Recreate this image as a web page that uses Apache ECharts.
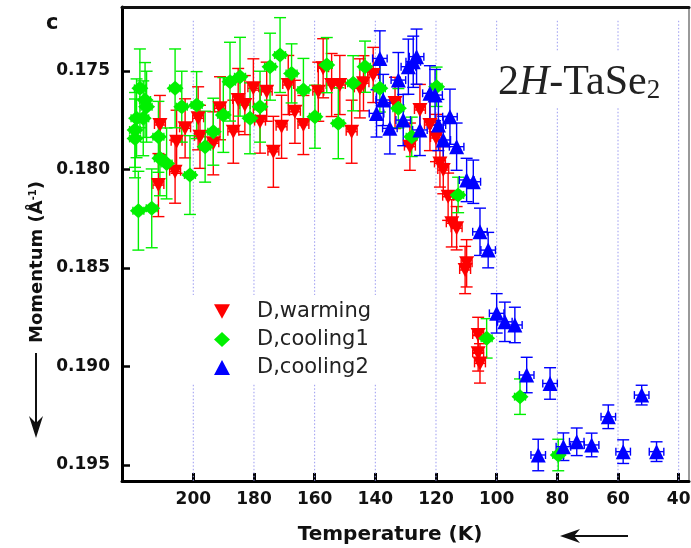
<!DOCTYPE html>
<html>
<head>
<meta charset="utf-8">
<script src="https://cdn.jsdelivr.net/npm/echarts@6/dist/echarts.min.js"></script>
<style>
  html, body { margin: 0; padding: 0; background: #fff; }
  #chart { width: 691px; height: 548px; }
</style>
</head>
<body>
<div id="chart"></div>
<script>
// D, warming run: temperature (K), momentum (1/Å), vertical error
const warmingTemp = [211.5, 211.0, 206.0, 205.5, 202.7, 198.4, 197.8, 193.4, 191.2, 186.8, 185.2, 183.0, 180.2, 178.0, 175.8, 173.6, 170.9, 168.7, 166.5, 163.7, 158.8, 157.2, 154.4, 151.7, 147.8, 145.1, 143.9, 140.7, 133.5, 128.6, 125.3, 122.0, 120.0, 118.7, 117.6, 116.0, 114.8, 113.2, 110.4, 109.9, 106.1, 106.1, 105.5];
const warmingMom  = [0.18079, 0.17774, 0.18011, 0.17859, 0.17791, 0.17740, 0.17834, 0.17867, 0.17689, 0.17808, 0.17647, 0.17673, 0.17588, 0.17757, 0.17605, 0.17910, 0.17783, 0.17571, 0.17707, 0.17774, 0.17605, 0.17486, 0.17571, 0.17571, 0.17808, 0.17588, 0.17562, 0.17520, 0.17662, 0.17884, 0.17698, 0.17774, 0.17840, 0.17969, 0.18003, 0.18138, 0.18273, 0.18298, 0.18510, 0.18476, 0.18840, 0.18933, 0.18984];
const warmingErr  = [0.0016, 0.0015, 0.0016, 0.0016, 0.0015, 0.0016, 0.0016, 0.0016, 0.0016, 0.0016, 0.0016, 0.0015, 0.0015, 0.0016, 0.0015, 0.0018, 0.0016, 0.0015, 0.0016, 0.0015, 0.0015, 0.0015, 0.0016, 0.0015, 0.0016, 0.0015, 0.0014, 0.0014, 0.0013, 0.0012, 0.0013, 0.0013, 0.0012, 0.0012, 0.0012, 0.0012, 0.0012, 0.0011, 0.0012, 0.0012, 0.0009, 0.0009, 0.0010];

// D, cooling1 run
const cooling1Temp = [219.2, 219.2, 218.7, 218.1, 217.6, 216.5, 215.9, 215.4, 213.7, 211.5, 211.0, 208.8, 206.0, 203.8, 201.1, 198.9, 196.1, 193.4, 190.1, 187.9, 184.6, 181.3, 178.0, 174.7, 171.4, 167.6, 163.7, 159.9, 156.0, 152.2, 147.3, 143.4, 138.5, 132.4, 128.0, 119.8, 112.7, 103.3, 92.3, 79.7];
const cooling1Mom  = [0.17799, 0.17842, 0.17740, 0.18209, 0.17588, 0.17740, 0.17647, 0.17681, 0.18197, 0.17834, 0.17943, 0.17969, 0.17588, 0.17681, 0.18028, 0.17673, 0.17884, 0.17808, 0.17723, 0.17554, 0.17529, 0.17740, 0.17681, 0.17478, 0.17419, 0.17512, 0.17596, 0.17732, 0.17470, 0.17765, 0.17562, 0.17478, 0.17588, 0.17689, 0.17834, 0.17580, 0.18129, 0.18857, 0.19153, 0.19449];
const cooling1Err  = [0.0019, 0.0020, 0.0020, 0.0020, 0.0020, 0.0019, 0.0019, 0.0018, 0.0020, 0.0018, 0.0019, 0.0018, 0.0020, 0.0018, 0.0020, 0.0017, 0.0018, 0.0017, 0.0019, 0.0020, 0.0020, 0.0018, 0.0018, 0.0017, 0.0019, 0.0015, 0.0016, 0.0016, 0.0014, 0.0018, 0.0014, 0.0013, 0.0012, 0.0010, 0.0010, 0.0010, 0.0009, 0.0010, 0.0009, 0.0008];

// D, cooling2 run
const cooling2Temp = [139.6, 138.5, 137.4, 135.2, 132.4, 130.8, 129.1, 127.5, 126.4, 125.3, 122.0, 120.3, 119.2, 117.6, 115.4, 113.2, 109.9, 107.7, 105.5, 102.8, 100.0, 97.3, 94.0, 90.1, 82.4, 86.3, 78.0, 73.6, 68.7, 63.2, 58.3, 52.2, 47.3];
const cooling2Mom  = [0.17715, 0.17436, 0.17647, 0.17791, 0.17546, 0.17749, 0.17478, 0.17453, 0.17427, 0.17799, 0.17613, 0.17622, 0.17774, 0.17850, 0.17732, 0.17884, 0.18053, 0.18062, 0.18316, 0.18409, 0.18730, 0.18773, 0.18789, 0.19043, 0.19086, 0.19449, 0.19407, 0.19382, 0.19398, 0.19255, 0.19432, 0.19145, 0.19432];
const cooling2Err  = [0.0012, 0.0014, 0.0013, 0.0013, 0.0014, 0.0013, 0.0014, 0.0013, 0.0014, 0.0013, 0.0014, 0.0013, 0.0013, 0.0012, 0.0014, 0.0012, 0.0011, 0.0011, 0.0012, 0.0009, 0.0010, 0.0010, 0.0009, 0.0009, 0.0008, 0.0008, 0.0007, 0.0007, 0.0006, 0.0006, 0.0006, 0.0005, 0.0005];

// Axis ticks
const tempTicks = [200, 180, 160, 140, 120, 100, 80, 60, 40];
const momentumTicks = [0.175, 0.180, 0.185, 0.190, 0.195];

const T_MIN = 36.6, T_MAX = 223.5;
const Q_MIN = 0.17175, Q_MAX = 0.19581;
const GRID_TOP_Q = 0.17245;   // dotted guides start a little below the frame

const RED = '#ff0000', GREEN = '#00f000', BLUE = '#0000ff';
const downTriangle = 'path://M0,0 L10,0 L5,9 Z';

function rows(temp, mom, err) {
  return temp.map((t, i) => [t, mom[i], err[i]]);
}

// vertical error bar with caps plus a short horizontal bar
function errorBarRenderer(color, capHalf, xErr) {
  return function (params, api) {
    const t = api.value(0), q = api.value(1), e = api.value(2);
    const top = api.coord([t, q - e]);
    const bot = api.coord([t, q + e]);
    const lft = api.coord([t + xErr, q]);
    const rgt = api.coord([t - xErr, q]);
    const style = { stroke: color, lineWidth: 1.4 };
    return {
      type: 'group',
      children: [
        { type: 'line', shape: { x1: top[0], y1: top[1], x2: bot[0], y2: bot[1] }, style },
        { type: 'line', shape: { x1: top[0] - capHalf, y1: top[1], x2: top[0] + capHalf, y2: top[1] }, style },
        { type: 'line', shape: { x1: bot[0] - capHalf, y1: bot[1], x2: bot[0] + capHalf, y2: bot[1] }, style },
        { type: 'line', shape: { x1: lft[0], y1: lft[1], x2: rgt[0], y2: rgt[1] }, style },
        { type: 'line', shape: { x1: lft[0], y1: lft[1] - 4, x2: lft[0], y2: lft[1] + 4 }, style },
        { type: 'line', shape: { x1: rgt[0], y1: rgt[1] - 4, x2: rgt[0], y2: rgt[1] + 4 }, style }
      ]
    };
  };
}

function errorSeries(name, color, data, xErr) {
  return {
    type: 'custom', name: name + ' err', data, clip: true,
    encode: { x: 0, y: 1 }, silent: true,
    renderItem: errorBarRenderer(color, 6, xErr)
  };
}

function markerSeries(name, color, data, symbol, size) {
  return {
    type: 'scatter', name, data, symbol, symbolSize: size,
    itemStyle: { color, opacity: 1 }, encode: { x: 0, y: 1 },
    emphasis: { disabled: true }
  };
}

const chart = echarts.init(document.getElementById('chart'), null, { renderer: 'canvas' });

const labelFont = { fontFamily: 'DejaVu Sans', fontWeight: 'bold', fontSize: 17, color: '#111' };

chart.setOption({
  backgroundColor: '#fff',
  animation: false,
  grid: {
    left: 122, top: 7, right: 2, bottom: 67,
    containLabel: false, outerBoundsMode: 'none',
    show: false
  },
  xAxis: [
    {
      type: 'value', inverse: true, min: T_MIN, max: T_MAX, position: 'bottom',
      axisLine: { lineStyle: { color: '#000', width: 3 } },
      axisTick: { inside: true, length: 8, lineStyle: { color: '#000', width: 3 }, customValues: tempTicks },
      axisLabel: Object.assign({ margin: 10, customValues: tempTicks }, labelFont),
      splitLine: { show: false }
    },
    {
      type: 'value', inverse: true, min: T_MIN, max: T_MAX, position: 'top',
      axisLine: { lineStyle: { color: '#111', width: 3 } },
      axisTick: { show: false }, axisLabel: { show: false }, splitLine: { show: false }
    }
  ],
  yAxis: [
    {
      type: 'value', inverse: true, min: Q_MIN, max: Q_MAX, position: 'left',
      axisLine: { show: true, lineStyle: { color: '#000', width: 3 } },
      axisTick: { show: true, inside: true, length: 8, lineStyle: { color: '#000', width: 2.5 }, customValues: momentumTicks },
      axisLabel: Object.assign({ margin: 12, customValues: momentumTicks, formatter: v => v.toFixed(3) }, labelFont),
      splitLine: { show: false }
    },
    {
      type: 'value', inverse: true, min: Q_MIN, max: Q_MAX, position: 'right',
      axisLine: { show: true, lineStyle: { color: '#777', width: 1.5 } },
      axisTick: { show: false }, axisLabel: { show: false }, splitLine: { show: false }
    }
  ],
  legend: {
    orient: 'vertical', left: 185, top: 295,
    data: ['D,warming', 'D,cooling1', 'D,cooling2'],
    itemWidth: 16, itemHeight: 15, itemGap: 7,
    backgroundColor: '#fff',
    padding: [6, 12, 6, 29],
    textStyle: { fontFamily: 'DejaVu Sans', fontSize: 21, color: '#222', padding: [0, 0, 0, 22] },
    selectedMode: false
  },
  series: [
    {
      type: 'custom', name: 'guides', silent: true, z: 1,
      data: tempTicks.map(t => [t, Q_MAX]),
      encode: { x: 0, y: 1 },
      renderItem: function (params, api) {
        const t = api.value(0);
        const a = api.coord([t, GRID_TOP_Q]);
        const b = api.coord([t, Q_MAX]);
        return {
          type: 'line',
          shape: { x1: a[0], y1: a[1], x2: b[0], y2: b[1] },
          style: { stroke: '#9a9af0', lineWidth: 1, lineDash: [1.5, 2] }
        };
      }
    },
    errorSeries('D,warming', RED, rows(warmingTemp, warmingMom, warmingErr), 1.8),
    markerSeries('D,warming', RED, rows(warmingTemp, warmingMom, warmingErr), downTriangle, [15, 14]),
    errorSeries('D,cooling1', GREEN, rows(cooling1Temp, cooling1Mom, cooling1Err), 1.8),
    markerSeries('D,cooling1', GREEN, rows(cooling1Temp, cooling1Mom, cooling1Err), 'diamond', [17, 15]),
    errorSeries('D,cooling2', BLUE, rows(cooling2Temp, cooling2Mom, cooling2Err), 2.4),
    markerSeries('D,cooling2', BLUE, rows(cooling2Temp, cooling2Mom, cooling2Err), 'triangle', [15, 15])
  ],
  graphic: [
    {
      type: 'text', left: 46, top: 13,
      style: { text: 'c', fontFamily: 'DejaVu Sans', fontWeight: 'bold', fontSize: 21, fill: '#111' }
    },
    {
      type: 'text', x: 494, y: 52, z: 50,
      style: {
        text: '{n|2}{i|H}{n|-TaSe}{s|2}',
        backgroundColor: '#fff', padding: [4, 6, 4, 4],
        rich: {
          n: { fontFamily: 'Liberation Serif', fontSize: 42, lineHeight: 48, fill: '#222', verticalAlign: 'bottom' },
          i: { fontFamily: 'Liberation Serif', fontStyle: 'italic', fontSize: 42, lineHeight: 48, fill: '#222', verticalAlign: 'bottom' },
          s: { fontFamily: 'Liberation Serif', fontSize: 27, lineHeight: 26, fill: '#222', verticalAlign: 'bottom' }
        }
      }
    },
    {
      type: 'text', x: 37, y: 262, rotation: Math.PI / 2,
      style: {
        text: 'Momentum (Å{s|-1})',
        fontFamily: 'DejaVu Sans', fontWeight: 'bold', fontSize: 18, fill: '#111',
        align: 'center', verticalAlign: 'middle',
        rich: { s: { fontFamily: 'DejaVu Sans', fontWeight: 'bold', fontSize: 10, verticalAlign: 'top', lineHeight: 10, fill: '#111' } }
      }
    },
    {
      type: 'text', x: 390, y: 535,
      style: {
        text: 'Temperature (K)', fontFamily: 'DejaVu Sans', fontWeight: 'bold', fontSize: 20, fill: '#111',
        align: 'center', verticalAlign: 'middle'
      }
    },
    // arrow below the momentum title
    { type: 'line', shape: { x1: 36, y1: 353, x2: 36, y2: 430 }, style: { stroke: '#111', lineWidth: 2 } },
    { type: 'polygon', shape: { points: [[36, 438], [29, 416], [36, 423], [43, 416]] }, style: { fill: '#111' } },
    // arrow beside the temperature title
    { type: 'line', shape: { x1: 568, y1: 536, x2: 628, y2: 536 }, style: { stroke: '#111', lineWidth: 2 } },
    { type: 'polygon', shape: { points: [[560, 536], [580, 529], [574, 536], [580, 543]] }, style: { fill: '#111' } }
  ]
});
</script>
</body>
</html>
